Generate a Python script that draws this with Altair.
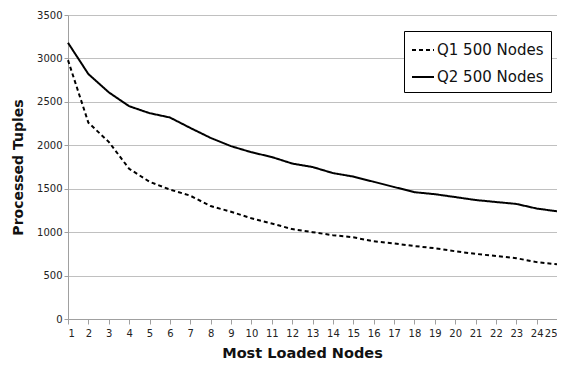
import altair as alt
import pandas as pd

nodes = list(range(1, 26))
q1 = [2980, 2260, 2040, 1730, 1580, 1490, 1420, 1300, 1235, 1160, 1100, 1035, 1000, 965, 940,
      895, 870, 840, 815, 780, 750, 725, 700, 655, 630]
q2 = [3180, 2820, 2610, 2450, 2370, 2320, 2200, 2085, 1990, 1920, 1865, 1790, 1750, 1680, 1640,
      1580, 1520, 1460, 1437, 1404, 1370, 1347, 1325, 1272, 1240]
series_names = ["Q1 500 Nodes", "Q2 500 Nodes"]
y_ticks = [0, 500, 1000, 1500, 2000, 2500, 3000, 3500]

rows = []
for n, a, b in zip(nodes, q1, q2):
    rows.append({"node": n, "value": a, "series": series_names[0]})
    rows.append({"node": n, "value": b, "series": series_names[1]})
df = pd.DataFrame(rows)

FONT = "DejaVu Sans"

chart = alt.Chart(df).mark_line(strokeWidth=2, color="black").encode(
    x=alt.X("node:Q",
            scale=alt.Scale(domain=[1, 25], nice=False, zero=False),
            axis=alt.Axis(values=nodes, title="Most Loaded Nodes", grid=False, format="d",
                          labelFontSize=10, labelColor="#222", labelPadding=4,
                          tickSize=5, tickColor="#a0a0a0", domainColor="#a0a0a0",
                          titleFontSize=14.5, titleFontWeight="bold", titleColor="#111",
                          titleX=234, titleY=38, titleAlign="center",
                          titleBaseline="alphabetic")),
    y=alt.Y("value:Q",
            scale=alt.Scale(domain=[0, 3500], nice=False),
            axis=alt.Axis(values=y_ticks, format="d",
                          title="Processed Tuples", grid=True, gridColor="#c0c0c0",
                          labelFontSize=10, labelColor="#222", labelPadding=2,
                          tickSize=4, tickColor="#a0a0a0", domainColor="#a0a0a0",
                          titleFontSize=14, titleFontWeight="bold", titleColor="#111",
                          titleX=-43, titleY=152, titleAlign="center")),
    strokeDash=alt.StrokeDash("series:N",
                              scale=alt.Scale(domain=series_names, range=[[4, 3], [1, 0]]),
                              legend=alt.Legend(title=None, orient="none",
                                                legendX=336, legendY=16,
                                                strokeColor="black", fillColor="white",
                                                padding=7, labelFontSize=15,
                                                labelColor="#111", labelFont=FONT,
                                                symbolType="stroke", symbolStrokeWidth=2,
                                                symbolSize=484, symbolStrokeColor="black",
                                                rowPadding=7, labelOffset=2)),
    detail="series:N",
).properties(
    width=489, height=304,
    autosize=alt.AutoSizeParams(type="none"),
    padding={"left": 60, "top": 7, "right": 0, "bottom": 40},
).configure_view(stroke=None).configure(font=FONT)

chart.save("out.html", embed_options={"renderer": "svg", "actions": False})
